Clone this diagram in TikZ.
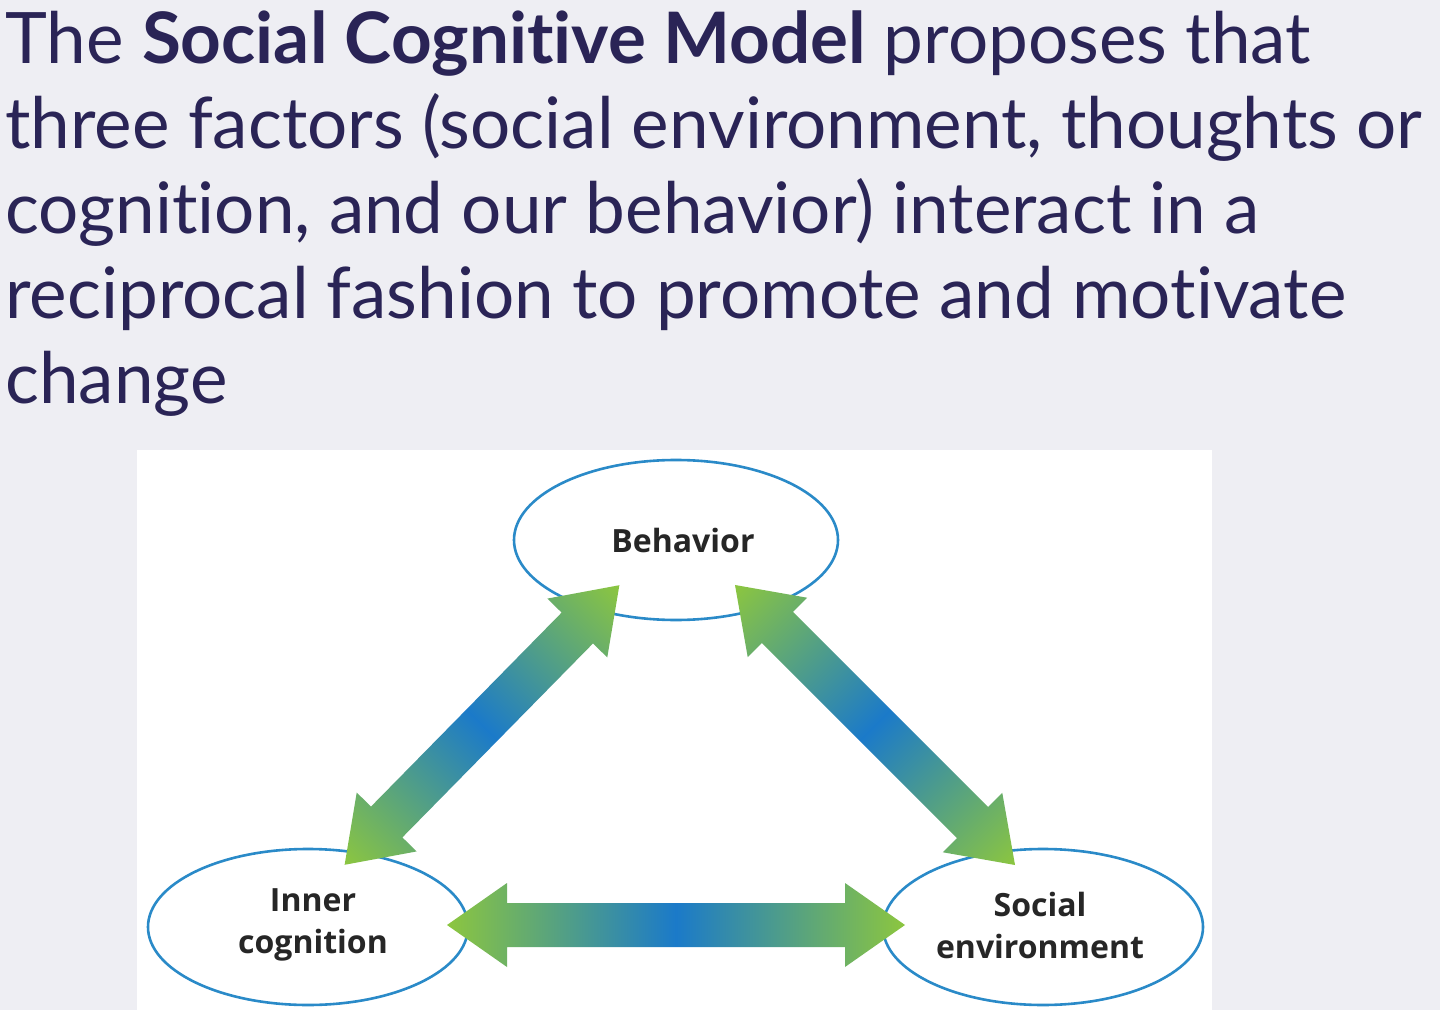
\documentclass[tikz,border=0pt]{standalone}
\usepackage{fontspec}
\setmainfont{Lato}[Ligatures=NoCommon]
\newfontfamily\lblfont{Open Sans}
\definecolor{bg}{HTML}{EEEEF3}
\definecolor{ttl}{HTML}{2A2456}
\definecolor{eb}{HTML}{2A8AC8}
\definecolor{ag}{HTML}{8CC63F}
\definecolor{ab}{HTML}{1B7AC9}
\newcommand{\dblarrow}[4]{%
\begin{scope}[transform canvas={shift={(#1,#2)},rotate=#3}]
\path[left color=ag,right color=ag,middle color=ab]
 (-#4,0) -- (-#4+60,42) -- (-#4+60,22) -- (#4-60,22) -- (#4-60,42) -- (#4,0)
 -- (#4-60,-42) -- (#4-60,-22) -- (-#4+60,-22) -- (-#4+60,-42) -- cycle;
\end{scope}}
\begin{document}
\begin{tikzpicture}[x=0.5pt,y=-0.5pt,
  lbl/.style={font=\lblfont\bfseries\fontsize{16}{21}\selectfont,text=black!85,align=center}]
\useasboundingbox (0,0) rectangle (1440,1010);
\fill[bg] (0,0) rectangle (1440,1010);
\fill[white] (137,450) rectangle (1212,1010);
\node[anchor=north west,inner sep=0,text=ttl,align=left,font=\fontsize{35.5}{42.5}\selectfont] (title) at (5,10)
{The \textbf{Social Cognitive Model} proposes that\\three factors (social environment, thoughts or\\cognition, and our behavior) interact in a\\reciprocal fashion to promote and motivate\\change};
\draw[draw=eb,line width=1.3pt,fill=white] (676,540) ellipse [x radius=162,y radius=80];
\draw[draw=eb,line width=1.3pt,fill=white] (308,927) ellipse [x radius=160,y radius=78];
\draw[draw=eb,line width=1.3pt,fill=white] (1043,927) ellipse [x radius=160,y radius=78];
\node[lbl] (beh) at (683,540) {Behavior};
\node[lbl] (inn) at (313,925) {Inner\\cognition};
\node[lbl] (soc) at (1040,925) {Social\\environment};
\dblarrow{482}{725}{45.5}{196}
\dblarrow{875}{725}{-45}{198}
\dblarrow{676}{925}{0}{229}
\end{tikzpicture}
\end{document}
